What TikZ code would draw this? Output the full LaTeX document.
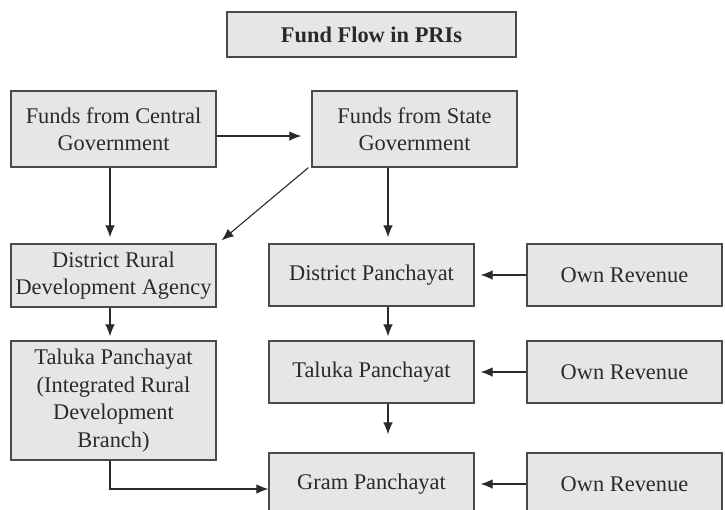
\documentclass[tikz,border=0pt]{standalone}
\usepackage{fontspec}
\setmainfont{Liberation Serif}
\usetikzlibrary{arrows.meta}
\definecolor{boxfill}{HTML}{E6E6E6}
\definecolor{boxline}{HTML}{4A4A4A}
\definecolor{ink}{HTML}{2A2A2A}
\begin{document}
\begin{tikzpicture}[x=0.5pt,y=-0.5pt,
  box/.style={draw=boxline, line width=0.65pt, fill=boxfill, text=ink,
    font=\fontsize{11.2}{13.75}\selectfont, align=center, inner sep=0pt,
    minimum width=102.5pt},
  ownbox/.style={box, minimum width=97.5pt, minimum height=31pt},
  arr/.style={draw=ink, line width=0.55pt, -{Latex[length=6pt,width=4.8pt]}}]
\useasboundingbox (0,0) rectangle (725,510);
\node[box, minimum width=144.5pt, minimum height=22.5pt,
  font=\fontsize{11.2}{13.75}\selectfont\bfseries] (title) at (371.5,34.5) {Fund Flow in PRIs};
\node[box, minimum height=38pt] (central) at (113.5,129) {Funds from Central\\Government};
\node[box, minimum height=38pt] (state) at (414.5,129) {Funds from State\\Government};
\node[box, minimum height=31.5pt] (drda) at (113.5,275.5) {District Rural\\Development Agency};
\node[box, minimum height=31pt] (dp) at (371.5,275) {District Panchayat};
\node[ownbox] (own1) at (624.5,275) {Own Revenue};
\node[box, minimum height=59.5pt] (tirdb) at (113.5,400.5) {Taluka Panchayat\\(Integrated Rural\\Development\\Branch)};
\node[box, minimum height=31pt] (tp) at (371.5,372) {Taluka Panchayat};
\node[ownbox] (own2) at (624.5,372) {Own Revenue};
\node[box, minimum height=31pt] (gram) at (371.5,484) {Gram Panchayat};
\node[ownbox] (own3) at (624.5,484) {Own Revenue};

\coordinate (c1) at (110,0);
\coordinate (c2) at (388,0);
\coordinate (r1) at (0,136);
\coordinate (r2) at (0,489);

\draw[arr] (central.east |- r1) -- ([xshift=-5pt]state.west |- r1);
\draw[arr] (central.south -| c1) -- ([yshift=3pt]drda.north -| c1);
\draw[arr] ([xshift=-1.5pt]state.south west) -- ([xshift=2.5pt,yshift=1.5pt]drda.north east);
\draw[arr] (state.south -| c2) -- ([yshift=3pt]dp.north -| c2);
\draw[arr] (own1.west) -- ([xshift=3pt]dp.east);
\draw[arr] (drda.south -| c1) -- ([yshift=2pt]tirdb.north -| c1);
\draw[arr] (dp.south -| c2) -- ([yshift=2pt]tp.north -| c2);
\draw[arr] (own2.west) -- ([xshift=3pt]tp.east);
\draw[arr] (tp.south -| c2) -- ([yshift=9pt]gram.north -| c2);
\draw[arr] (own3.west) -- ([xshift=3pt]gram.east);
\draw[arr] (tirdb.south -| c1) |- (gram.west |- r2);
\end{tikzpicture}
\end{document}
